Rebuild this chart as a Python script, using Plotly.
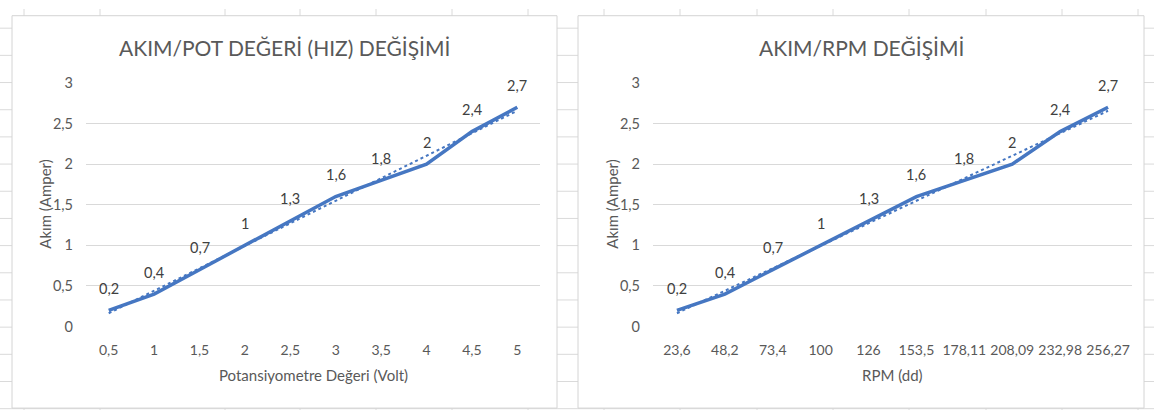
import numpy as np
import plotly.graph_objects as go

# Measurements: potentiometer voltage, motor speed and drawn current
pot_volt = [0.5, 1, 1.5, 2, 2.5, 3, 3.5, 4, 4.5, 5]
rpm = [23.6, 48.2, 73.4, 100, 126, 153.5, 178.11, 208.09, 232.98, 256.27]
current = [0.2, 0.4, 0.7, 1, 1.3, 1.6, 1.8, 2, 2.4, 2.7]

y_ticks = [0, 0.5, 1, 1.5, 2, 2.5, 3]

W, H = 1154, 418
FONT = "Lato, Open Sans, sans-serif"
TXT = "#595959"
GRID = "#d9d9d9"
SHEET = "#dadada"
BLUE = "#4677c2"


def fmt(v):
    return ("%g" % v).replace(".", ",")


def px_x(v):
    return v / W


def px_y(v):
    return 1 - v / H


fig = go.Figure()

# worksheet cell grid behind the charts
shapes = []
col_lines = [24, 100, 225, 300, 376, 452, 528, 604, 680, 757, 833, 909, 986, 1062, 1138]
row_lines = [20 + 28.33 * k for k in range(15)]
for cx in col_lines:
    shapes.append(dict(type="line", xref="paper", yref="paper", x0=px_x(cx), x1=px_x(cx),
                       y0=0, y1=1, line=dict(color=SHEET, width=1), layer="below"))
for ry in row_lines:
    shapes.append(dict(type="line", xref="paper", yref="paper", x0=0, x1=1,
                       y0=px_y(ry), y1=px_y(ry), line=dict(color=SHEET, width=1), layer="below"))

# chart frames
frames = [(12, 557), (578, 1144)]
for l, r in frames:
    shapes.append(dict(type="rect", xref="paper", yref="paper", x0=px_x(l), x1=px_x(r),
                       y0=px_y(416), y1=px_y(7), fillcolor="white",
                       line=dict(color="#d4d4d4", width=1), layer="below"))

plot_x = [(86, 540), (653, 1132)]
y_dom = [px_y(331), px_y(77)]

charts = [
    dict(labels=[fmt(v) for v in pot_volt], title="AKIM/POT DEĞERİ (HIZ) DEĞİŞİMİ",
         xtitle="Potansiyometre Değeri (Volt)"),
    dict(labels=[fmt(v) for v in rpm], title="AKIM/RPM DEĞİŞİMİ", xtitle="RPM (dd)"),
]

# category positions and linear trend over the category index (1..n)
pos = list(range(len(current)))
idx = np.arange(1, len(current) + 1)
slope, intercept = np.polyfit(idx, current, 1)
trend = slope * idx + intercept

annotations = []
for i, ch in enumerate(charts):
    xa = "x" if i == 0 else "x2"
    ya = "y" if i == 0 else "y2"
    fig.add_trace(go.Scatter(x=pos, y=current, mode="lines",
                             line=dict(color=BLUE, width=3.5), xaxis=xa, yaxis=ya,
                             showlegend=False, hoverinfo="skip"))
    fig.add_trace(go.Scatter(x=pos, y=trend, mode="lines",
                             line=dict(color=BLUE, width=2, dash="dot"), xaxis=xa, yaxis=ya,
                             showlegend=False, hoverinfo="skip"))
    for p, v in zip(pos, current):
        annotations.append(dict(x=p, y=v, xref=xa, yref=ya, text=fmt(v), showarrow=False,
                                yshift=22, font=dict(family=FONT, size=14.5, color="#404040")))
    l, r = frames[i]
    px0, px1 = plot_x[i]
    annotations.append(dict(x=px_x((l + r) / 2), y=px_y(40), xref="paper", yref="paper",
                            text=ch["title"], showarrow=False, xanchor="center", yanchor="middle",
                            font=dict(family=FONT, size=21, color=TXT)))
    annotations.append(dict(x=px_x((px0 + px1) / 2), y=px_y(381), xref="paper", yref="paper",
                            text=ch["xtitle"], showarrow=False, xanchor="center", yanchor="middle",
                            font=dict(family=FONT, size=15, color=TXT)))
    annotations.append(dict(x=px_x(45 if i == 0 else 612), y=(y_dom[0] + y_dom[1]) / 2,
                            xref="paper", yref="paper", text="Akım (Amper)", textangle=-90,
                            showarrow=False, xanchor="center", yanchor="middle",
                            font=dict(family=FONT, size=15, color=TXT)))

xaxis_common = dict(range=[-0.5, len(current) - 0.5], tickvals=pos, tickangle=0,
                    showgrid=False, zeroline=False, showline=False, ticks="",
                    ticklabelstandoff=13,
                    tickfont=dict(family=FONT, size=14, color=TXT), fixedrange=True)
yaxis_common = dict(range=[0, 3], tickvals=y_ticks, showgrid=True, gridcolor=GRID, gridwidth=1,
                    zeroline=False, showline=False, ticks="", ticklabelstandoff=12,
                    tickfont=dict(family=FONT, size=14.5, color=TXT), fixedrange=True)

fig.update_layout(
    width=W, height=H, margin=dict(l=0, r=0, t=0, b=0),
    paper_bgcolor="white", plot_bgcolor="rgba(0,0,0,0)",
    separators=",.",
    xaxis=dict(domain=[px_x(plot_x[0][0]), px_x(plot_x[0][1])], anchor="y",
               ticktext=charts[0]["labels"], **xaxis_common),
    yaxis=dict(domain=y_dom, anchor="x", **yaxis_common),
    xaxis2=dict(domain=[px_x(plot_x[1][0]), px_x(plot_x[1][1])], anchor="y2",
                ticktext=charts[1]["labels"], **xaxis_common),
    yaxis2=dict(domain=y_dom, anchor="x2", **yaxis_common),
    shapes=shapes, annotations=annotations,
)

fig.write_html("out.html")
